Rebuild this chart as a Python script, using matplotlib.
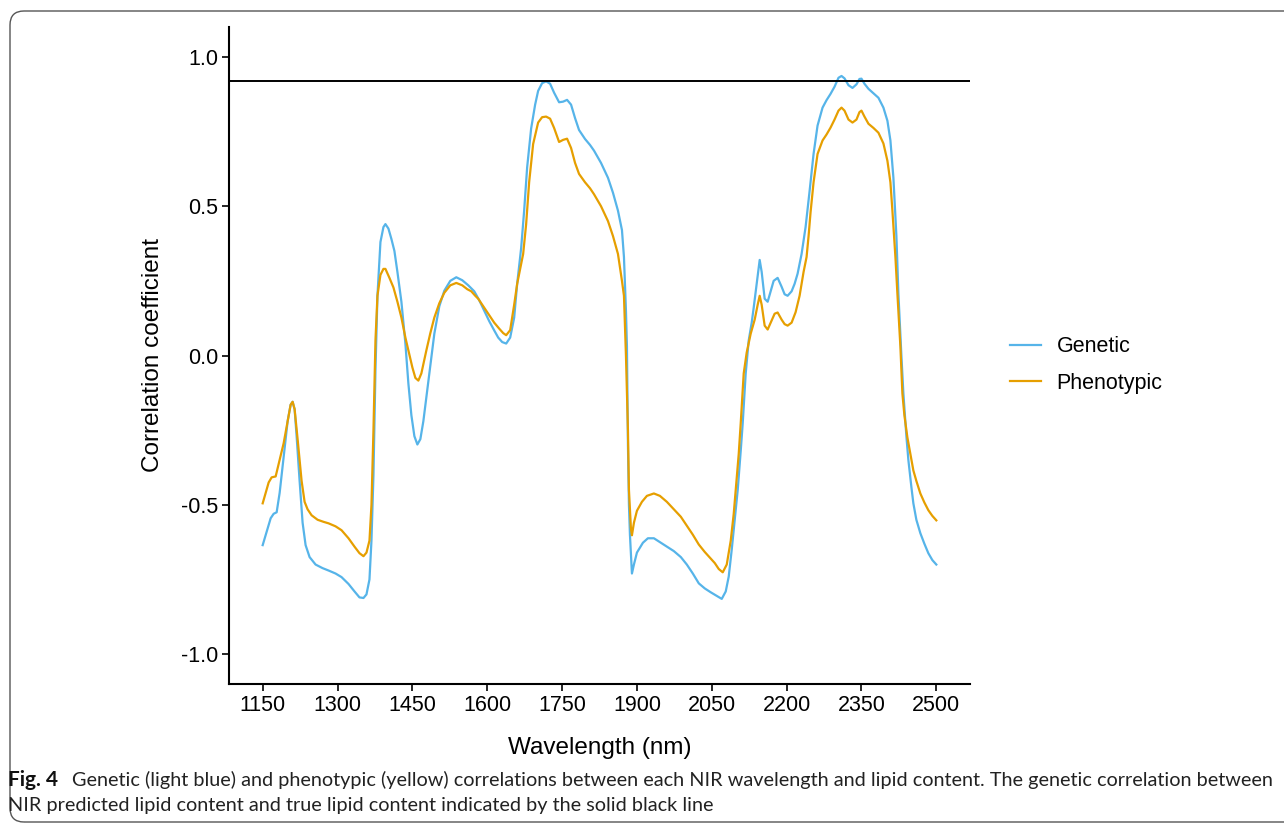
import matplotlib
matplotlib.use("Agg")
import matplotlib.pyplot as plt
from matplotlib.patches import FancyBboxPatch
from matplotlib.transforms import IdentityTransform

# ---------------- data ----------------
genetic_wl = [1150, 1158, 1166, 1172, 1178, 1184, 1192, 1200, 1206, 1210, 1214, 1218, 1224, 1230, 1236, 1244,
              1256, 1270, 1282, 1296, 1308, 1322, 1334, 1344, 1352, 1358, 1364, 1368, 1372, 1376, 1380, 1386,
              1392, 1396, 1402, 1408, 1414, 1420, 1428, 1436, 1442, 1448, 1454, 1460, 1466, 1472, 1478, 1484,
              1494, 1504, 1514, 1526, 1538, 1550, 1562, 1574, 1584, 1594, 1604, 1614, 1622, 1630, 1638, 1646,
              1654, 1660, 1668, 1674, 1680, 1688, 1696, 1702, 1710, 1718, 1726, 1734, 1744, 1752, 1760, 1768,
              1776, 1784, 1796, 1806, 1814, 1828, 1842, 1852, 1862, 1870, 1874, 1878, 1880, 1882, 1884, 1886,
              1890, 1894, 1900, 1912, 1922, 1934, 1946, 1960, 1974, 1988, 2000, 2012, 2024, 2036, 2048, 2060,
              2070, 2078, 2084, 2090, 2096, 2102, 2108, 2112, 2118, 2124, 2130, 2134, 2140, 2146, 2150, 2156,
              2162, 2168, 2174, 2182, 2190, 2196, 2202, 2210, 2216, 2222, 2230, 2238, 2246, 2254, 2262, 2272,
              2280, 2288, 2296, 2304, 2310, 2316, 2324, 2332, 2340, 2346, 2350, 2356, 2364, 2374, 2384, 2394,
              2402, 2408, 2414, 2420, 2424, 2430, 2434, 2440, 2444, 2450, 2454, 2460, 2468, 2476, 2484, 2492,
              2500]
genetic_r = [-0.635, -0.59, -0.545, -0.53, -0.525, -0.46, -0.34, -0.22, -0.165, -0.155, -0.18, -0.27, -0.42, -0.56, -0.635, -0.675,
             -0.70, -0.712, -0.72, -0.73, -0.742, -0.765, -0.79, -0.81, -0.812, -0.80, -0.75, -0.62, -0.40, -0.05, 0.20, 0.38,
             0.43, 0.44, 0.425, 0.39, 0.35, 0.28, 0.18, 0.04, -0.094, -0.20, -0.27, -0.298, -0.28, -0.22, -0.14, -0.06,
             0.073, 0.165, 0.217, 0.25, 0.262, 0.252, 0.235, 0.215, 0.185, 0.15, 0.115, 0.084, 0.06, 0.045, 0.04, 0.06,
             0.127, 0.24, 0.36, 0.485, 0.63, 0.76, 0.84, 0.886, 0.912, 0.918, 0.91, 0.88, 0.848, 0.85, 0.856, 0.84,
             0.795, 0.755, 0.725, 0.705, 0.686, 0.645, 0.595, 0.545, 0.485, 0.42, 0.33, 0.15, 0.03, -0.30, -0.50, -0.60,
             -0.73, -0.70, -0.66, -0.627, -0.612, -0.612, -0.625, -0.64, -0.655, -0.675, -0.70, -0.73, -0.763, -0.78, -0.793, -0.805,
             -0.815, -0.79, -0.74, -0.65, -0.55, -0.45, -0.32, -0.227, -0.06, 0.05, 0.11, 0.16, 0.24, 0.32, 0.28, 0.19,
             0.18, 0.215, 0.25, 0.26, 0.23, 0.205, 0.20, 0.215, 0.24, 0.274, 0.34, 0.43, 0.55, 0.675, 0.77, 0.83,
             0.855, 0.876, 0.90, 0.93, 0.936, 0.928, 0.905, 0.896, 0.908, 0.926, 0.927, 0.91, 0.893, 0.878, 0.863, 0.83,
             0.786, 0.72, 0.595, 0.40, 0.207, 0.0, -0.127, -0.27, -0.35, -0.44, -0.495, -0.55, -0.595, -0.63, -0.662, -0.685,
             -0.70]

pheno_wl = [1150, 1156, 1162, 1168, 1176, 1184, 1192, 1200, 1206, 1210, 1214, 1220, 1228, 1234, 1240, 1248,
            1260, 1272, 1282, 1296, 1308, 1322, 1334, 1344, 1352, 1358, 1364, 1368, 1372, 1376, 1380, 1386,
            1392, 1396, 1404, 1412, 1420, 1428, 1436, 1442, 1450, 1456, 1462, 1468, 1478, 1486, 1494, 1504,
            1514, 1526, 1538, 1550, 1560, 1568, 1576, 1582, 1592, 1602, 1614, 1624, 1632, 1638, 1646, 1654,
            1660, 1666, 1672, 1678, 1684, 1692, 1702, 1710, 1718, 1726, 1734, 1744, 1752, 1760, 1768, 1776, 1784,
            1796, 1806, 1814, 1828, 1842, 1852, 1862, 1870, 1874, 1876, 1878, 1882, 1884, 1888, 1890, 1894,
            1900, 1910, 1920, 1934, 1946, 1960, 1974, 1988, 2000, 2012, 2024, 2036, 2048, 2056, 2064, 2072,
            2080, 2088, 2094, 2098, 2104, 2108, 2114, 2120, 2128, 2136, 2142, 2146, 2150, 2156, 2162, 2168,
            2176, 2182, 2190, 2196, 2202, 2210, 2218, 2226, 2234, 2240, 2244, 2248, 2254, 2262, 2272, 2280,
            2288, 2296, 2304, 2310, 2316, 2324, 2332, 2340, 2346, 2350, 2356, 2364, 2374, 2384, 2394, 2402,
            2408, 2412, 2418, 2422, 2428, 2432, 2436, 2442, 2448, 2454, 2460, 2468, 2476, 2484, 2492, 2500]
pheno_r = [-0.495, -0.46, -0.425, -0.408, -0.405, -0.35, -0.294, -0.22, -0.165, -0.155, -0.18, -0.28, -0.42, -0.49, -0.515, -0.535,
           -0.55, -0.557, -0.562, -0.572, -0.585, -0.612, -0.64, -0.662, -0.672, -0.66, -0.62, -0.50, -0.25, 0.05, 0.20, 0.27,
           0.29, 0.29, 0.26, 0.228, 0.18, 0.127, 0.06, 0.017, -0.04, -0.075, -0.084, -0.06, 0.017, 0.075, 0.127, 0.175,
           0.21, 0.235, 0.243, 0.235, 0.222, 0.215, 0.20, 0.19, 0.165, 0.14, 0.11, 0.09, 0.075, 0.068, 0.085, 0.17,
           0.24, 0.29, 0.34, 0.44, 0.58, 0.708, 0.78, 0.798, 0.80, 0.793, 0.762, 0.715, 0.722, 0.726, 0.695, 0.645, 0.608,
           0.58, 0.56, 0.54, 0.50, 0.45, 0.40, 0.34, 0.25, 0.20, 0.10, 0.0, -0.25, -0.45, -0.58, -0.602, -0.56,
           -0.52, -0.49, -0.47, -0.462, -0.47, -0.49, -0.515, -0.54, -0.57, -0.60, -0.633, -0.658, -0.68, -0.695, -0.715, -0.726,
           -0.70, -0.62, -0.53, -0.45, -0.33, -0.227, -0.06, 0.01, 0.073, 0.12, 0.17, 0.20, 0.17, 0.10, 0.087, 0.11,
           0.14, 0.144, 0.12, 0.105, 0.10, 0.11, 0.145, 0.20, 0.28, 0.33, 0.40, 0.48, 0.58, 0.675, 0.72, 0.74,
           0.763, 0.79, 0.82, 0.83, 0.82, 0.79, 0.78, 0.79, 0.815, 0.82, 0.80, 0.776, 0.762, 0.746, 0.71, 0.652,
           0.58, 0.485, 0.33, 0.207, 0.03, -0.127, -0.20, -0.274, -0.33, -0.385, -0.42, -0.462, -0.492, -0.518, -0.537, -0.552]

reference_r = 0.92
series_labels = ["Genetic", "Phenotypic"]
x_ticks = [1150, 1300, 1450, 1600, 1750, 1900, 2050, 2200, 2350, 2500]
y_ticks = [1.0, 0.5, 0.0, -0.5, -1.0]
y_tick_labels = ["1.0", "0.5", "0.0", "-0.5", "-1.0"]

caption_bold = "Fig. 4"
caption_line1 = ("Genetic (light blue) and phenotypic (yellow) correlations between each NIR wavelength "
                 "and lipid content. The genetic correlation between")
caption_line2 = "NIR predicted lipid content and true lipid content indicated by the solid black line"

# ---------------- figure ----------------
W, H = 1284, 826
fig = plt.figure(figsize=(W / 100, H / 100), dpi=100)
fig.patch.set_facecolor("white")

# rounded frame (display pixel coordinates, origin bottom-left)
frame = FancyBboxPatch((10, H - 822), 1300, 822 - 11,
                       boxstyle="round,pad=0,rounding_size=14",
                       transform=IdentityTransform(), facecolor="none",
                       edgecolor="#555555", linewidth=1.0)
fig.patches.append(frame)

ax = fig.add_axes([229 / W, 1 - 684 / H, (970 - 229) / W, (684 - 27) / H])
ax.set_facecolor("none")

font = "Liberation Sans"
blue = "#56B4E9"
orange = "#E69F00"

l1, = ax.plot(genetic_wl, genetic_r, color=blue, lw=1.6, solid_joinstyle="round")
l2, = ax.plot(pheno_wl, pheno_r, color=orange, lw=1.6, solid_joinstyle="round")
ax.axhline(reference_r, color="black", lw=1.4)

ax.set_xlim(1082.5, 2567.5)
ax.set_ylim(-1.1, 1.1)
ax.set_xticks(x_ticks)
ax.set_xticklabels([str(t) for t in x_ticks], fontfamily=font, fontsize=15.5)
ax.set_yticks(y_ticks)
ax.set_yticklabels(y_tick_labels, fontfamily=font, fontsize=15.5)
for s in ["top", "right"]:
    ax.spines[s].set_visible(False)
for s in ["left", "bottom"]:
    ax.spines[s].set_linewidth(1.5)
    ax.spines[s].set_color("black")
ax.tick_params(axis="both", direction="out", length=5, width=1.2, color="black", labelcolor="black", pad=3)

ax.set_xlabel("Wavelength (nm)", fontfamily=font, fontsize=17.5, labelpad=15)
ax.set_ylabel("Correlation coefficient", fontfamily=font, fontsize=17.5, labelpad=12)

fig.legend([l1, l2], series_labels, loc="center left",
           bbox_to_anchor=(1010 / W, 1 - 365 / H), frameon=False,
           prop={"family": font, "size": 15.5}, handlelength=1.45,
           handletextpad=0.72, labelspacing=0.72, borderpad=0, borderaxespad=0)

cap_font = "Lato"
fig.text(8 / W, 1 - 786 / H, caption_bold, fontfamily=cap_font, fontweight="bold",
         fontsize=15, va="baseline", ha="left", color="#111111")
fig.text(72 / W, 1 - 786 / H, caption_line1, fontfamily=cap_font, fontsize=14.3,
         va="baseline", ha="left", color="#222222")
fig.text(8 / W, 1 - 811 / H, caption_line2, fontfamily=cap_font, fontsize=14.3,
         va="baseline", ha="left", color="#222222")

fig.savefig("out.png", dpi=100)
